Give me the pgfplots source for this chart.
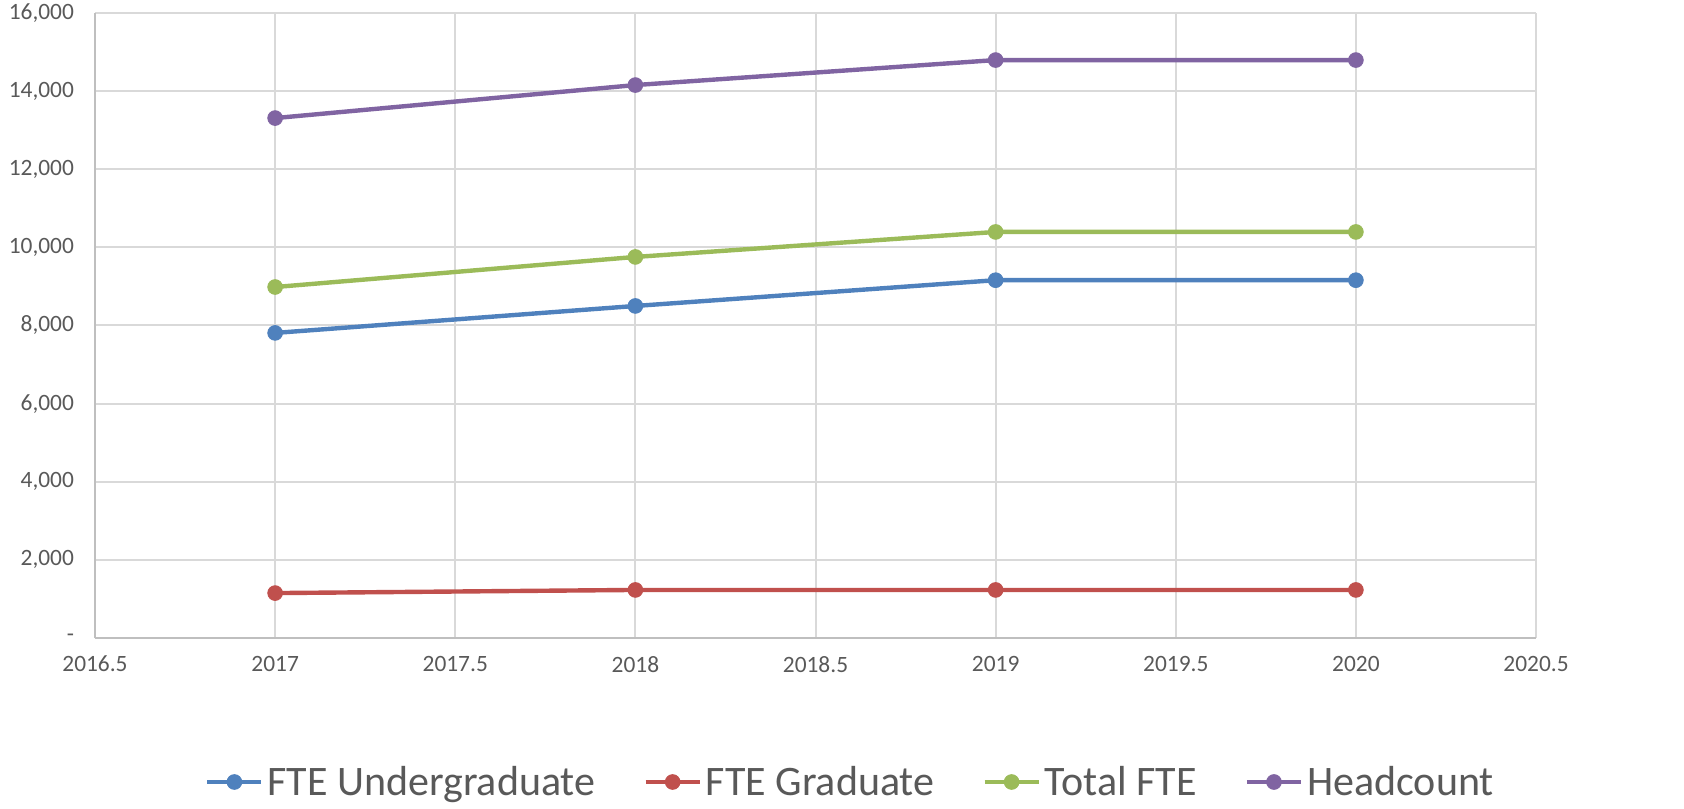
\documentclass[border=0pt]{standalone}
\usepackage{pgfplots}
\pgfplotsset{compat=1.18}
\usepackage{fontspec}
\setmainfont{Carlito}

\definecolor{cBlue}{HTML}{4F81BD}
\definecolor{cRed}{HTML}{C0504D}
\definecolor{cGreen}{HTML}{9BBB59}
\definecolor{cPurple}{HTML}{8064A2}
\definecolor{gridc}{HTML}{D9D9D9}
\definecolor{axisc}{HTML}{BFBFBF}
\definecolor{txt}{HTML}{595959}

\begin{document}
\begin{tikzpicture}
\path[use as bounding box] (0,0) rectangle (842pt,404pt);
\begin{axis}[
    at={(47.5pt,85pt)}, anchor=south west,
    scale only axis,
    width=720.5pt, height=312.5pt,
    xmin=2016.5, xmax=2020.5,
    ymin=0, ymax=16000,
    xtick={2016.5,2017,2017.5,2018,2018.5,2019,2019.5,2020,2020.5},
    ytick={0,2000,4000,6000,8000,10000,12000,14000,16000},
    yticklabels={-,{2,000},{4,000},{6,000},{8,000},{10,000},{12,000},{14,000},{16,000}},
    scaled x ticks=false, scaled y ticks=false,
    /pgf/number format/assume math mode=true,
    /pgf/number format/1000 sep={},
    major tick length=0pt,
    grid=major,
    grid style={gridc, line width=1pt},
    axis lines*=left,
    axis line style={axisc, line width=1pt},
    tick label style={font=\fontsize{11.7}{13}\selectfont, text=txt},
    yticklabel style={xshift=-7pt},
    xticklabel style={yshift=-5.5pt},
    every axis plot/.append style={line width=2.2pt, mark=*, mark size=3.7pt},
    legend columns=4,
    legend style={
        at={(0.525,-0.2304)}, anchor=center, draw=none,
        font=\fontsize{21}{24}\selectfont, text=txt,
        /tikz/every even column/.append style={column sep=22pt},
        nodes={inner sep=2pt},
    },
    legend image code/.code={
        \draw[mark repeat=2, mark phase=2]
        plot coordinates {(0pt,0pt) (13.5pt,0pt) (27pt,0pt)};
    },
]
\addplot[cBlue, mark options={fill=cBlue, line width=0.4pt}] coordinates {
    (2017,7810) (2018,8500) (2019,9160) (2020,9160)};
\addplot[cRed, mark options={fill=cRed, line width=0.4pt}] coordinates {
    (2017,1150) (2018,1230) (2019,1230) (2020,1230)};
\addplot[cGreen, mark options={fill=cGreen, line width=0.4pt}] coordinates {
    (2017,8985) (2018,9755) (2019,10395) (2020,10395)};
\addplot[cPurple, mark options={fill=cPurple, line width=0.4pt}] coordinates {
    (2017,13310) (2018,14155) (2019,14795) (2020,14795)};
\legend{FTE Undergraduate, FTE Graduate, Total FTE, Headcount}
\end{axis}
\end{tikzpicture}
\end{document}
